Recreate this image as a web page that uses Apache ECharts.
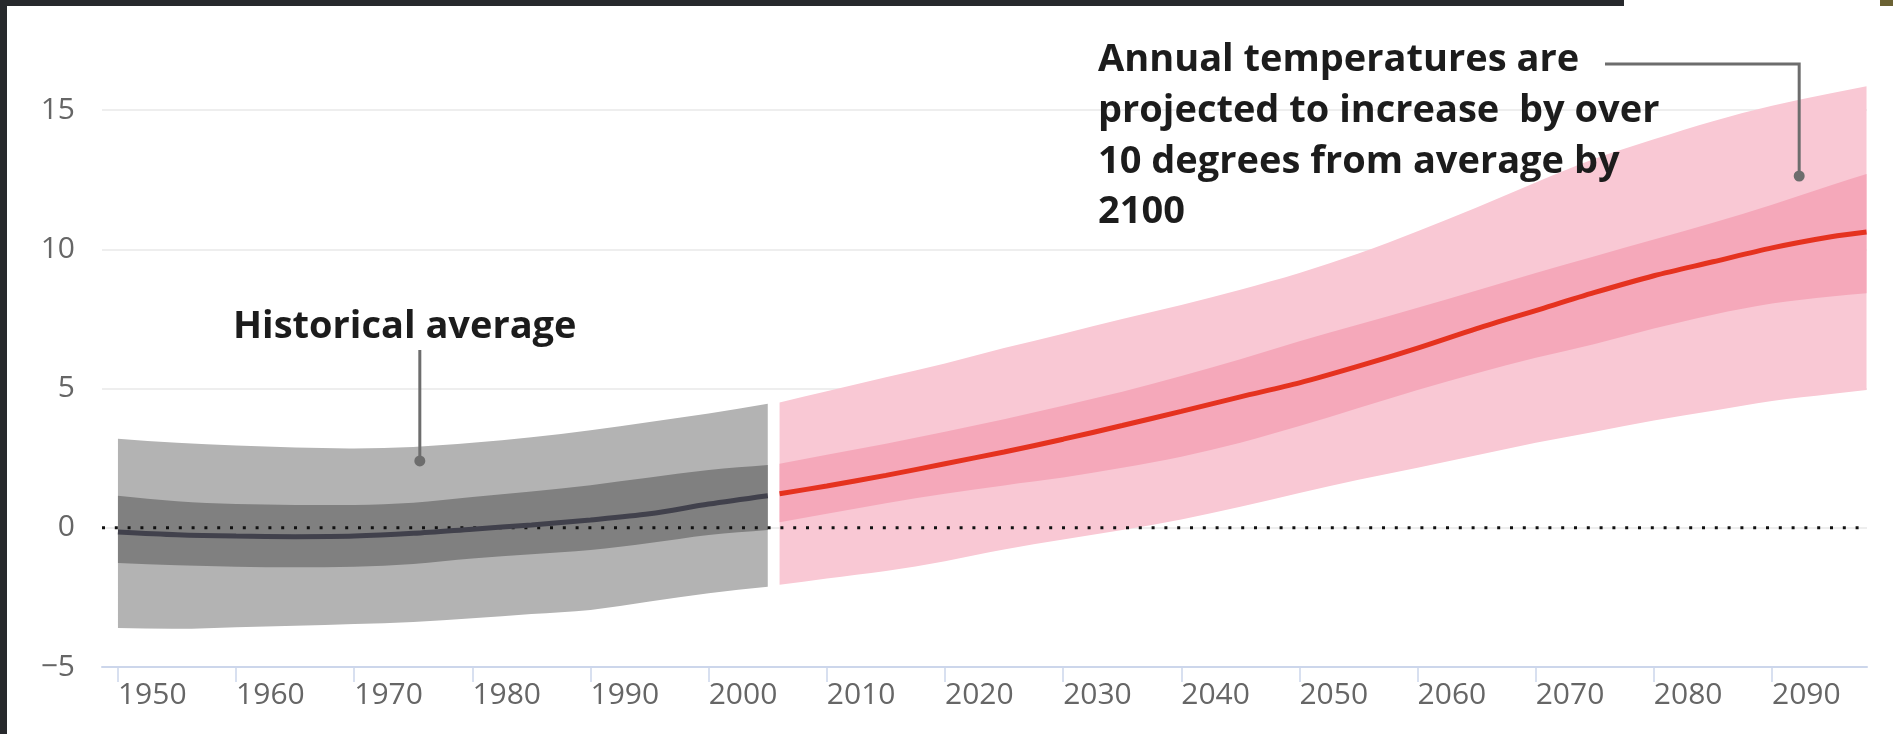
<!DOCTYPE html>
<html>
<head>
<meta charset="utf-8">
<style>
html,body{margin:0;padding:0;background:#ffffff;}
#c{width:1893px;height:734px;}
</style>
<script src="https://cdn.jsdelivr.net/npm/echarts@6/dist/echarts.min.js"></script>
</head>
<body>
<div id="c"></div>
<script>
// ---------------- data ----------------
const histYears      = [1950, 1955, 1960, 1965, 1970, 1975, 1980, 1985, 1990, 1995, 2000, 2005];
const histOuterHigh  = [3.2, 3.05, 2.95, 2.88, 2.85, 2.9, 3.05, 3.25, 3.5, 3.8, 4.1, 4.45];
const histOuterLow   = [-3.6, -3.63, -3.57, -3.52, -3.46, -3.38, -3.25, -3.1, -2.95, -2.65, -2.35, -2.12];
const histInnerHigh  = [1.15, 0.95, 0.85, 0.82, 0.82, 0.9, 1.1, 1.3, 1.53, 1.8, 2.07, 2.25];
const histInnerLow   = [-1.27, -1.35, -1.4, -1.42, -1.4, -1.3, -1.1, -0.95, -0.8, -0.55, -0.26, -0.08];
const histMean       = [-0.15, -0.25, -0.3, -0.32, -0.3, -0.2, -0.05, 0.1, 0.28, 0.5, 0.85, 1.15];

const projYears      = [2006, 2010, 2015, 2020, 2025, 2030, 2035, 2040, 2045, 2050, 2055, 2060, 2065, 2070, 2075, 2080, 2085, 2090, 2095, 2098];
const projOuterHigh  = [4.5, 4.9, 5.4, 5.9, 6.45, 6.97, 7.5, 8.0, 8.55, 9.15, 9.85, 10.65, 11.5, 12.4, 13.25, 13.95, 14.6, 15.15, 15.6, 15.85];
const projOuterLow   = [-2.05, -1.82, -1.55, -1.2, -0.78, -0.42, -0.08, 0.3, 0.75, 1.25, 1.72, 2.15, 2.6, 3.05, 3.45, 3.85, 4.2, 4.55, 4.8, 4.95];
const projInnerHigh  = [2.3, 2.62, 3.02, 3.45, 3.9, 4.38, 4.88, 5.45, 6.05, 6.7, 7.3, 7.9, 8.52, 9.15, 9.75, 10.35, 10.95, 11.6, 12.3, 12.7];
const projInnerLow   = [0.2, 0.5, 0.88, 1.22, 1.52, 1.8, 2.15, 2.55, 3.05, 3.65, 4.3, 4.95, 5.55, 6.1, 6.6, 7.15, 7.65, 8.05, 8.3, 8.42];
const projMean       = [1.22, 1.5, 1.88, 2.3, 2.72, 3.18, 3.67, 4.18, 4.7, 5.2, 5.8, 6.45, 7.15, 7.8, 8.45, 9.05, 9.55, 10.05, 10.45, 10.62];

const xTickLabels    = [1950, 1960, 1970, 1980, 1990, 2000, 2010, 2020, 2030, 2040, 2050, 2060, 2070, 2080, 2090];
const yTickValues    = [-5, 0, 5, 10, 15];
const X_MIN = 1948.65, X_MAX = 2098.04;
const Y_MIN = -5, Y_MAX = 15;

const annotHistText  = 'Historical average';
const annotProjLines = ['Annual temperatures are', 'projected to increase  by over', '10 degrees from average by', '2100'];
const annotHistPoint = [1975.55, 2.4];
const annotProjPoint = [2092.3, 12.63];

// ---------------- helpers ----------------
function pairs(xs, ys) { return xs.map((x, i) => [x, ys[i]]); }

// smooth cubic-Hermite path through pixel points (tangents from neighbours)
function smoothSegs(pts) {
  const n = pts.length;
  const m = pts.map((p, i) => {
    const a = pts[Math.max(0, i - 1)], b = pts[Math.min(n - 1, i + 1)];
    return (b[1] - a[1]) / (b[0] - a[0]);
  });
  let d = '';
  for (let i = 0; i < n - 1; i++) {
    const p = pts[i], q = pts[i + 1], dx = (q[0] - p[0]) / 3;
    d += ' C' + (p[0] + dx) + ',' + (p[1] + m[i] * dx) + ' ' + (q[0] - dx) + ',' + (q[1] - m[i + 1] * dx) + ' ' + q[0] + ',' + q[1];
  }
  return d;
}

function bandSeries(id, xs, lo, hi, color, z) {
  return {
    type: 'custom', id: id, silent: true, z: z, clip: false,
    data: xs.map((x, i) => [x, lo[i], hi[i]]),
    encode: {x: 0, y: [1, 2]},
    renderItem: function (params, api) {
      if (params.dataIndex !== 0) return null;
      const top = xs.map((x, i) => api.coord([x, hi[i]]));
      const bot = xs.map((x, i) => api.coord([x, lo[i]])).reverse();
      const d = 'M' + top[0][0] + ',' + top[0][1] + smoothSegs(top) +
                ' L' + bot[0][0] + ',' + bot[0][1] + smoothSegs(bot) + ' Z';
      return {type: 'path', shape: {pathData: d}, style: {fill: color, stroke: null}};
    }
  };
}

// ---------------- chart ----------------
const chart = echarts.init(document.getElementById('c'), null, {renderer: 'canvas'});

const series = [
  bandSeries('hOuter', histYears, histOuterLow, histOuterHigh, '#b3b3b3', 1),
  bandSeries('hInner', histYears, histInnerLow, histInnerHigh, '#808080', 2),
  bandSeries('pOuter', projYears, projOuterLow, projOuterHigh, '#f9c8d4', 1),
  bandSeries('pInner', projYears, projInnerLow, projInnerHigh, '#f5a8ba', 2),
  {type: 'line', id: 'zero', data: [[X_MIN, 0], [X_MAX, 0]], showSymbol: false, symbol: 'none',
   lineStyle: {color: '#111111', width: 3, type: [3, 9.8]}, z: 3, silent: true},
  {type: 'line', id: 'histMean', data: pairs(histYears, histMean), smooth: 0.3, showSymbol: false, symbol: 'none',
   lineStyle: {color: '#41414c', width: 5}, z: 4, silent: true},
  {type: 'line', id: 'projMean', data: pairs(projYears, projMean), smooth: 0.3, showSymbol: false, symbol: 'none',
   lineStyle: {color: '#e5321f', width: 5}, z: 4, silent: true}
];

chart.setOption({
  animation: false,
  backgroundColor: '#ffffff',
  grid: {left: 102, right: 26, top: 110, bottom: 67, containLabel: false},
  xAxis: {
    type: 'value', min: X_MIN, max: X_MAX,
    axisLine: {show: true, onZero: false, lineStyle: {color: '#ccd6eb', width: 2}},
    axisTick: {show: true, customValues: xTickLabels, length: 15, lineStyle: {color: '#ccd6eb', width: 1.5}},
    axisLabel: {customValues: xTickLabels, formatter: v => String(v), align: 'left', margin: 13,
                fontFamily: 'Open Sans', fontSize: 30, color: '#666666'},
    splitLine: {show: false}
  },
  yAxis: {
    type: 'value', min: Y_MIN, max: Y_MAX, interval: 5,
    axisLine: {show: false}, axisTick: {show: false},
    axisLabel: {formatter: v => String(v).replace('-', '\u2212'), margin: 27,
                fontFamily: 'Open Sans', fontSize: 30, color: '#666666'},
    splitLine: {show: true, lineStyle: {color: '#e8e8e8', width: 1.5}}
  },
  series: series
});

// ---------------- annotations & frame ----------------
const px = (pt) => chart.convertToPixel({gridIndex: 0}, pt);
const hp = px(annotHistPoint);
const pp = px(annotProjPoint);
const annFont = 'bold 38px "Open Sans"';
const lineCol = '#6d6d6d';
const graphics = [
  {type: 'rect', shape: {x: 0, y: 0, width: 7, height: 734}, style: {fill: '#27292c'}, z: 100, silent: true},
  {type: 'rect', shape: {x: 0, y: 0, width: 1624, height: 6}, style: {fill: '#27292c'}, z: 100, silent: true},
  {type: 'rect', shape: {x: 1880, y: 0, width: 13, height: 6}, style: {fill: '#6b6233'}, z: 100, silent: true},
  {type: 'text', style: {text: annotHistText, x: 233, y: 327, font: annFont, fill: '#1c1c1c', align: 'left', verticalAlign: 'middle'}, z: 50},
  {type: 'line', shape: {x1: hp[0], y1: 350, x2: hp[0], y2: hp[1]}, style: {stroke: lineCol, lineWidth: 3}, z: 50},
  {type: 'circle', shape: {cx: hp[0], cy: hp[1], r: 5.5}, style: {fill: lineCol}, z: 50},
  {type: 'polyline', shape: {points: [[1605, 64], [pp[0], 64], [pp[0], pp[1]]]}, style: {stroke: lineCol, lineWidth: 3, fill: null}, z: 50},
  {type: 'circle', shape: {cx: pp[0], cy: pp[1], r: 5.5}, style: {fill: lineCol}, z: 50}
];
annotProjLines.forEach((t, i) => {
  graphics.push({type: 'text', style: {text: t, x: 1098, y: 60.3 + 50.7 * i, font: annFont, fill: '#1c1c1c', align: 'left', verticalAlign: 'middle'}, z: 50});
});
chart.setOption({graphic: graphics});
</script>
</body>
</html>
